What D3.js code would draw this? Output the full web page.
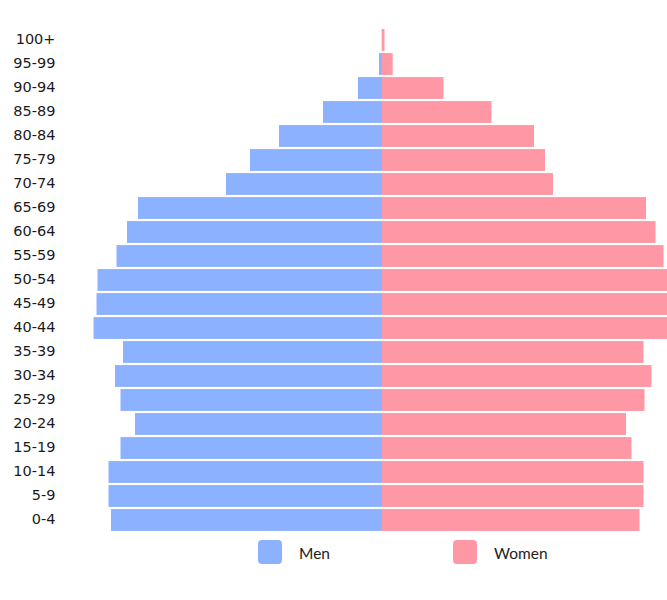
<!DOCTYPE html>
<html><head><meta charset="utf-8">
<script src="https://cdn.jsdelivr.net/npm/d3@7"></script>
<style>body{margin:0;background:#fff}svg{display:block}</style>
</head><body>
<script>
const ageGroups = ["100+","95-99","90-94","85-89","80-84","75-79","70-74","65-69","60-64","55-59","50-54","45-49","40-44","35-39","30-34","25-29","20-24","15-19","10-14","5-9","0-4"];
const men   = [0.3, 3, 24, 59, 103, 132, 156, 244, 255, 265.5, 284.5, 285.5, 288.5, 259, 267, 261.5, 247, 261.5, 273.5, 273.5, 271];
const women = [2.5, 10.7, 61.5, 109.5, 152, 163, 171, 264, 273.5, 281.5, 291, 292, 294, 261.5, 269.5, 262.5, 244, 249.5, 261.5, 261.5, 257.5];
const seriesNames = ["Men","Women"];
const colors = ["#8CB2FF","#FF97A5"];

const W = 667, H = 600;
const svg = d3.select("body").append("svg").attr("width", W).attr("height", H);
const cx = 382;
const y = d3.scaleBand().domain(ageGroups).range([28, 532]).paddingInner(0.09).paddingOuter(0.045);
const xs = d3.scaleLinear().domain([0, 300]).range([0, 300]);

const g = svg.append("g");
g.selectAll("rect.men").data(ageGroups).join("rect").attr("class","men")
  .attr("x", (d,i) => cx - xs(men[i])).attr("y", d => y(d))
  .attr("width", (d,i) => xs(men[i])).attr("height", y.bandwidth())
  .attr("fill", colors[0]);
g.selectAll("rect.women").data(ageGroups).join("rect").attr("class","women")
  .attr("x", cx).attr("y", d => y(d))
  .attr("width", (d,i) => xs(women[i])).attr("height", y.bandwidth())
  .attr("fill", colors[1]);

const axis = d3.axisLeft(y).tickSize(0).tickPadding(0);
const ag = svg.append("g").attr("transform", "translate(55.5,-1)").call(axis);
ag.select(".domain").remove();
ag.selectAll("text").attr("font-family","DejaVu Sans, sans-serif").attr("font-size","14.5px").attr("fill","#1a1a1a");

const legend = svg.append("g");
const lx = [258, 453];
seriesNames.forEach((n,i) => {
  legend.append("rect").attr("x", lx[i]).attr("y", 540).attr("width", 24).attr("height", 24).attr("rx", 4).attr("fill", colors[i]);
  legend.append("text").attr("x", lx[i] + 41).attr("y", 559).text(n)
    .attr("font-family","Lato, sans-serif").attr("font-size","15.5px").attr("fill","#222");
});
</script>
</body></html>
